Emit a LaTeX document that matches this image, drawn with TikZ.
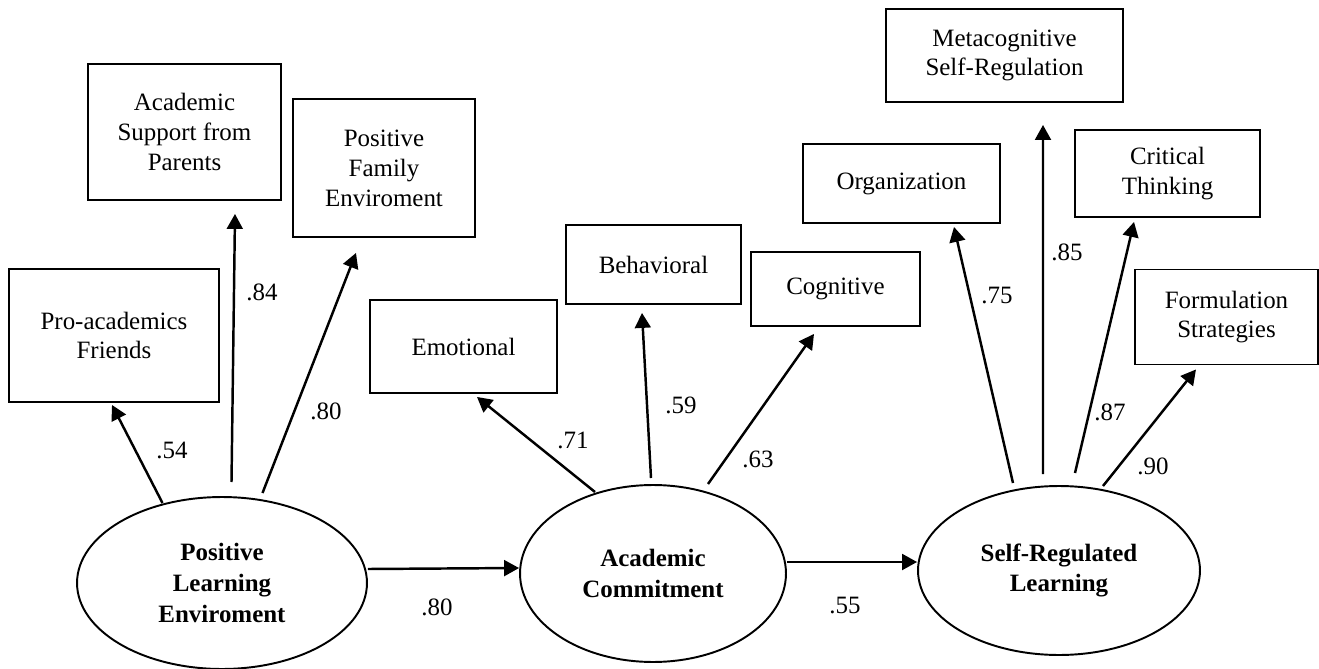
\documentclass[tikz,border=0pt]{standalone}
\usepackage{fontspec}
\setmainfont{Liberation Serif}
\usetikzlibrary{shapes.geometric,arrows.meta}
\begin{document}
\begin{tikzpicture}[x=0.02cm,y=-0.02cm,
  txt/.style={font=\fontsize{14.2}{17}\selectfont},
  obs/.style={draw,line width=1.1pt,rectangle,align=center,inner sep=0pt,txt},
  lat/.style={draw,line width=1.1pt,ellipse,align=center,inner sep=0pt,
    font=\fontsize{14.2}{17.5}\selectfont\bfseries},
  arr/.style={line width=1.4pt,-{Triangle[length=8.5pt,width=9pt]}},
  lbl/.style={txt,inner sep=0pt}]
\useasboundingbox (0,0) rectangle (1319,669);
% observed boxes
\node[obs,minimum width=4.2cm,minimum height=2.66cm] (paf) at (114,335.5) {Pro-academics\\Friends};
\node[obs,minimum width=3.86cm,minimum height=2.72cm] (asp) at (184.5,132) {Academic\\Support from\\Parents};
\node[obs,minimum width=3.64cm,minimum height=2.76cm] (pfe) at (384,168) {Positive\\Family\\Enviroment};
\node[obs,minimum width=3.74cm,minimum height=1.86cm] (emo) at (463.5,346.5) {Emotional};
\node[obs,minimum width=3.5cm,minimum height=1.58cm] (beh) at (653.5,264.5) {Behavioral};
\node[obs,minimum width=3.38cm,minimum height=1.48cm] (cog) at (835.5,289) {Cognitive};
\node[obs,minimum width=4.74cm,minimum height=1.86cm] (met) at (1004.5,55.5) {Metacognitive\\Self-Regulation};
\node[obs,minimum width=3.94cm,minimum height=1.58cm] (org) at (901.5,183.5) {Organization};
\node[obs,minimum width=3.7cm,minimum height=1.74cm] (crt) at (1167.5,173.5) {Critical\\Thinking};
\node[obs,minimum width=3.66cm,minimum height=1.9cm] (frm) at (1226.5,317) {Formulation\\Strategies};
% latent ellipses
\node[lat,minimum width=5.8cm,minimum height=3.44cm] (ple) at (222,583) {Positive\\Learning\\Enviroment};
\node[lat,minimum width=5.32cm,minimum height=3.54cm] (ac) at (653,573.5) {Academic\\Commitment};
\node[lat,minimum width=5.64cm,minimum height=3.38cm] (srl) at (1059,570.5) {Self-Regulated\\Learning};
% arrows
\draw[arr] ([shift={(-59.5,-80)}]ple.center) -- ([shift={(-2,2)}]paf.south);
\draw[arr] ([shift={(9.5,-101)}]ple.center) -- ([shift={(50.5,13)}]asp.south);
\draw[arr] ([shift={(40.5,-90)}]ple.center) -- ([shift={(-28,15)}]pfe.south);
\draw[arr] ([shift={(0,-14)}]ple.east) -- ([shift={(0,-5.5)}]ac.west);
\draw[arr] ([shift={(-58,-81.5)}]ac.center) -- ([shift={(13.5,3)}]emo.south);
\draw[arr] ([shift={(-2,-95.5)}]ac.center) -- ([shift={(-11.5,8)}]beh.south);
\draw[arr] ([shift={(55,-89.5)}]ac.center) -- ([shift={(-21.5,7)}]cog.south);
\draw[arr] ([shift={(0,-11.5)}]ac.east) -- ([shift={(0,-8.5)}]srl.west);
\draw[arr] ([shift={(-46,-87.5)}]srl.center) -- ([shift={(52.5,3)}]org.south);
\draw[arr] ([shift={(-16,-96.5)}]srl.center) -- ([shift={(38.5,22)}]met.south);
\draw[arr] ([shift={(16,-97.5)}]srl.center) -- ([shift={(-33.5,4)}]crt.south);
\draw[arr] ([shift={(44,-84.5)}]srl.center) -- ([shift={(-30.5,4)}]frm.south);
% loadings
\node[lbl] (l1) at (172,450) {.54};
\node[lbl] (l2) at (262,292) {.84};
\node[lbl] (l3) at (326,411) {.80};
\node[lbl] (l4) at (437,607) {.80};
\node[lbl] (l5) at (573,440) {.71};
\node[lbl] (l6) at (681,405) {.59};
\node[lbl] (l7) at (758,459) {.63};
\node[lbl] (l8) at (845,606) {.55};
\node[lbl] (l9) at (997,296) {.75};
\node[lbl] (l10) at (1067,252) {.85};
\node[lbl] (l11) at (1110,412) {.87};
\node[lbl] (l12) at (1153,466) {.90};
\end{tikzpicture}
\end{document}
